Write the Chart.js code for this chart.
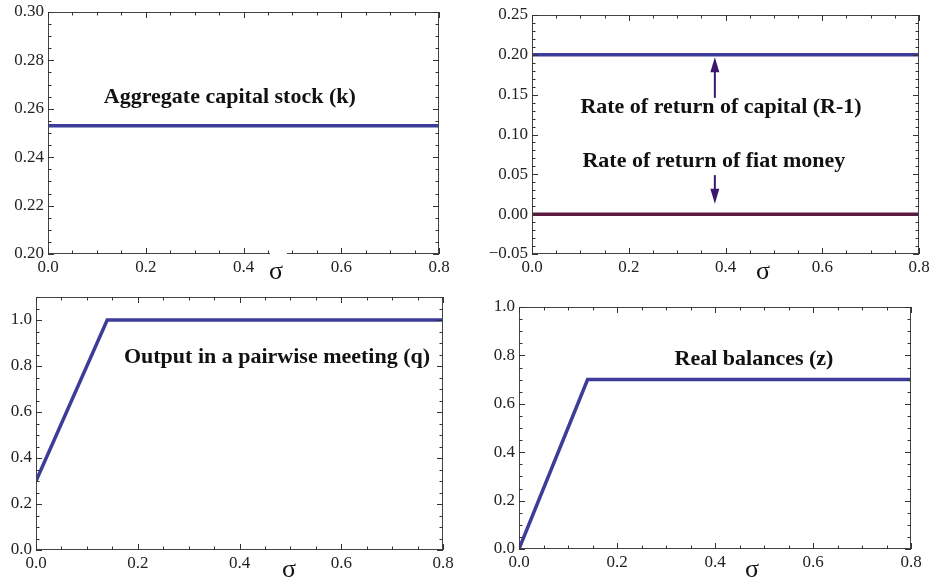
<!DOCTYPE html>
<html>
<head>
<meta charset="utf-8">
<script src="https://cdn.jsdelivr.net/npm/chart.js@4.4.1/dist/chart.umd.min.js"></script>
<style>
  body { margin: 0; background: #fff; }
  #wrap { position: relative; width: 933px; height: 581px; overflow: hidden; }
  canvas { position: absolute; }
</style>
</head>
<body>
<div id="wrap">
  <canvas id="capital" width="466" height="290" style="left:0;top:0"></canvas>
  <canvas id="returns" width="467" height="290" style="left:466px;top:0"></canvas>
  <canvas id="output" width="466" height="291" style="left:0;top:290px"></canvas>
  <canvas id="balances" width="467" height="291" style="left:466px;top:290px"></canvas>
</div>
<script>
// values
const sigmaFlat = [0, 0.8];
const capitalStock = [0.253, 0.253];
const returnCapital = [0.2, 0.2];
const returnMoney = [0, 0];
const sigmaKink = [0, 0.14, 0.8];
const outputQ = [0.3, 1.0, 1.0];
const realBalances = [0, 0.7, 0.7];

const sigmaTicks = [0, 0.2, 0.4, 0.6, 0.8];
const capitalTicks = [0.20, 0.22, 0.24, 0.26, 0.28, 0.30];
const returnTicks = [-0.05, 0, 0.05, 0.10, 0.15, 0.20, 0.25];
const outputTicks = [0, 0.2, 0.4, 0.6, 0.8, 1.0];
const balanceTicks = [0, 0.2, 0.4, 0.6, 0.8, 1.0];

const BLUE = '#3d3d99';
const MAROON = '#5e1a40';
const ARROW = '#3b1670';
const SERIF = '"Liberation Serif", "Times New Roman", serif';

function pts(xs, ys) {
    return xs.map((x, i) => ({ x: x, y: ys[i] }));
}

// frame, inward ticks on all four sides, labels, arrows
const framePlugin = {
    id: 'frame',
    afterDatasetsDraw(chart, args, opts) {
        const ctx = chart.ctx;
        const a = chart.chartArea;
        const xs = chart.scales.x, ys = chart.scales.y;
        ctx.save();
        ctx.strokeStyle = '#444';
        ctx.lineWidth = 1;
        ctx.strokeRect(a.left + 0.5, a.top + 0.5, a.right - a.left - 1, a.bottom - a.top - 1);

        ctx.strokeStyle = '#333';
        ctx.beginPath();
        const nx = Math.round((xs.max - xs.min) / opts.xMinor);
        for (let i = 0; i <= nx; i++) {
            const v = xs.min + i * opts.xMinor;
            const major = sigmaTicks.some(t => Math.abs(t - v) < 1e-9);
            const len = major ? 6 : 3.5;
            const px = Math.round(xs.getPixelForValue(v)) + 0.5;
            ctx.moveTo(px, a.bottom); ctx.lineTo(px, a.bottom - len);
            ctx.moveTo(px, a.top); ctx.lineTo(px, a.top + len);
        }
        const ny = Math.round((ys.max - ys.min) / opts.yMinor);
        for (let i = 0; i <= ny; i++) {
            const v = ys.min + i * opts.yMinor;
            const major = opts.yTicks.some(t => Math.abs(t - v) < 1e-9);
            const len = major ? 6 : 3.5;
            const py = Math.round(ys.getPixelForValue(v)) + 0.5;
            ctx.moveTo(a.left, py); ctx.lineTo(a.left + len, py);
            ctx.moveTo(a.right, py); ctx.lineTo(a.right - len, py);
        }
        ctx.stroke();

        if (opts.gap) {
            ctx.fillStyle = '#fff';
            ctx.fillRect(a.left + opts.gap[0], a.bottom - 2, opts.gap[1], 4);
        }

        ctx.fillStyle = '#111';
        ctx.font = 'bold 22px ' + SERIF;
        ctx.textAlign = 'center';
        ctx.textBaseline = 'middle';
        (opts.labels || []).forEach(l => {
            ctx.fillText(l.text, xs.getPixelForValue(l.x), ys.getPixelForValue(l.y));
        });

        (opts.arrows || []).forEach(ar => {
            const px = xs.getPixelForValue(ar.x);
            const y0 = ys.getPixelForValue(ar.from);
            const y1 = ys.getPixelForValue(ar.to);
            const dir = y1 < y0 ? -1 : 1;
            ctx.strokeStyle = ARROW;
            ctx.fillStyle = ARROW;
            ctx.lineWidth = 2;
            ctx.beginPath();
            ctx.moveTo(px, y0); ctx.lineTo(px, y1 - dir * 8);
            ctx.stroke();
            ctx.beginPath();
            ctx.moveTo(px, y1);
            ctx.lineTo(px - 4.5, y1 - dir * 15);
            ctx.lineTo(px + 4.5, y1 - dir * 15);
            ctx.closePath();
            ctx.fill();
        });

        ctx.fillStyle = '#111';
        ctx.font = '26px ' + SERIF;
        ctx.textAlign = 'center';
        ctx.textBaseline = 'middle';
        ctx.fillText('\u03c3', a.left + opts.sigma[0], a.bottom + opts.sigma[1]);
        ctx.restore();
    }
};

function makePanel(id, p) {
    new Chart(document.getElementById(id).getContext('2d'), {
        type: 'scatter',
        data: { datasets: p.datasets },
        options: {
            responsive: false,
            animation: false,
            layout: { padding: { top: p.padTop, right: p.padRight, left: 0, bottom: 0 } },
            plugins: {
                legend: { display: false },
                tooltip: { enabled: false },
                frame: p.frame
            },
            scales: {
                x: {
                    type: 'linear', min: 0, max: 0.8,
                    grid: { display: false, drawTicks: false },
                    border: { display: false },
                    afterBuildTicks: s => { s.ticks = sigmaTicks.map(v => ({ value: v })); },
                    afterFit: s => { s.height = p.xHeight; s.paddingLeft = 0; s.paddingRight = 0; },
                    ticks: {
                        padding: 3, maxRotation: 0, autoSkip: false,
                        color: '#222', font: { family: SERIF, size: 17 },
                        callback: v => v.toFixed(1)
                    }
                },
                y: {
                    type: 'linear', min: p.yMin, max: p.yMax,
                    grid: { display: false, drawTicks: false },
                    border: { display: false },
                    afterBuildTicks: s => { s.ticks = p.frame.yTicks.map(v => ({ value: v })); },
                    afterFit: s => { s.width = p.yWidth; s.paddingTop = 0; s.paddingBottom = 0; },
                    ticks: {
                        padding: 4, autoSkip: false,
                        color: '#222', font: { family: SERIF, size: 17 },
                        callback: v => (v < 0 ? '\u2212' : '') + Math.abs(v).toFixed(p.dec)
                    }
                }
            }
        },
        plugins: [framePlugin]
    });
}

function line(data, color) {
    return { data: data, showLine: true, borderColor: color, borderWidth: 3.5,
             pointRadius: 0, fill: false, tension: 0 };
}

makePanel('capital', {
    yMin: 0.20, yMax: 0.30, dec: 2,
    yWidth: 48, xHeight: 36, padTop: 12, padRight: 27,
    datasets: [line(pts(sigmaFlat, capitalStock), BLUE)],
    frame: {
        xMinor: 0.05, yMinor: 0.005, yTicks: capitalTicks,
        gap: [222, 17], sigma: [228, 18],
        labels: [{ text: 'Aggregate capital stock (k)', x: 0.372, y: 0.2649 }]
    }
});

makePanel('returns', {
    yMin: -0.05, yMax: 0.25, dec: 2,
    yWidth: 66, xHeight: 36, padTop: 15, padRight: 14,
    datasets: [line(pts(sigmaFlat, returnCapital), BLUE), line(pts(sigmaFlat, returnMoney), MAROON)],
    frame: {
        xMinor: 0.05, yMinor: 0.01, yTicks: returnTicks,
        sigma: [231, 18],
        labels: [
            { text: 'Rate of return of capital (R-1)', x: 0.3907, y: 0.1345 },
            { text: 'Rate of return of fiat money', x: 0.376, y: 0.0667 }
        ],
        arrows: [
            { x: 0.378, from: 0.146, to: 0.197 },
            { x: 0.378, from: 0.049, to: 0.013 }
        ]
    }
});

makePanel('output', {
    yMin: 0, yMax: 1.1, dec: 1,
    yWidth: 36, xHeight: 31, padTop: 7, padRight: 23,
    datasets: [line(pts(sigmaKink, outputQ), BLUE)],
    frame: {
        xMinor: 0.05, yMinor: 0.05, yTicks: outputTicks,
        sigma: [253, 20],
        labels: [{ text: 'Output in a pairwise meeting (q)', x: 0.4737, y: 0.839 }]
    }
});

makePanel('balances', {
    yMin: 0, yMax: 1.0, dec: 1,
    yWidth: 53, xHeight: 32, padTop: 17, padRight: 22,
    datasets: [line(pts(sigmaKink, realBalances), BLUE)],
    frame: {
        xMinor: 0.05, yMinor: 0.05, yTicks: balanceTicks,
        sigma: [233, 21],
        labels: [{ text: 'Real balances (z)', x: 0.4796, y: 0.785 }]
    }
});
</script>
</body>
</html>
